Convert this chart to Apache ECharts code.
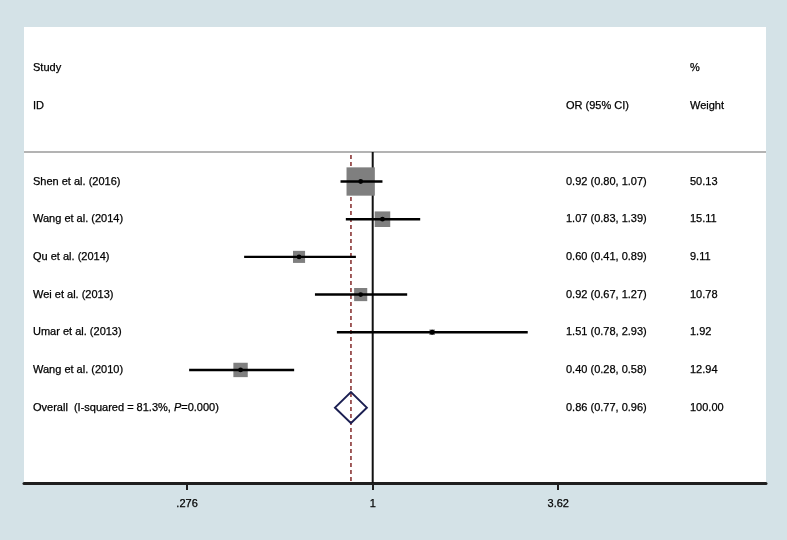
<!DOCTYPE html>
<html>
<head>
<meta charset="utf-8">
<script src="https://cdn.jsdelivr.net/npm/echarts@6/dist/echarts.min.js"></script>
<style>
  html, body { margin: 0; padding: 0; background: #d4e2e7; }
  #chart { width: 787px; height: 540px; }
</style>
</head>
<body>
<div id="chart"></div>
<script>
// ---- Data ----
const studies = ['Shen et al. (2016)', 'Wang et al. (2014)', 'Qu et al. (2014)', 'Wei et al. (2013)', 'Umar et al. (2013)', 'Wang et al. (2010)'];
const orValues = [0.92, 1.07, 0.60, 0.92, 1.51, 0.40];
const ciLower = [0.80, 0.83, 0.41, 0.67, 0.78, 0.28];
const ciUpper = [1.07, 1.39, 0.89, 1.27, 2.93, 0.58];
const weights = [50.13, 15.11, 9.11, 10.78, 1.92, 12.94];
const overallLabel = ['Overall  (I-squared = 81.3%, ', 'P', '=0.000)'];
const overallOR = 0.86;
const overallLower = 0.77;
const overallUpper = 0.96;
const overallWeight = 100.00;
const tickValues = [0.276, 1, 3.62];
const tickLabels = ['.276', '1', '3.62'];
const headerStudy = ['Study', 'ID'];
const headerOR = 'OR (95% CI)';
const headerWeight = ['%', 'Weight'];

// ---- Layout constants ----
const FONT = '"Liberation Sans", Arial, sans-serif';
const firstStudyRow = 3;
const overallRow = firstStudyRow + studies.length;
const sepRow = 2.22;
const axisRow = 11;
const colStudyX = 33;
const colORX = 566;
const colWX = 690;

const fmt = v => v.toFixed(2);

// table text rows
const tableRows = [];
tableRows.push({ row: 0, a: headerStudy[0], b: '', c: headerWeight[0] });
tableRows.push({ row: 1, a: headerStudy[1], b: headerOR, c: headerWeight[1] });
studies.forEach((s, i) => {
  tableRows.push({ row: firstStudyRow + i, a: s, b: fmt(orValues[i]) + ' (' + fmt(ciLower[i]) + ', ' + fmt(ciUpper[i]) + ')', c: fmt(weights[i]) });
});
tableRows.push({ row: overallRow, a: null, b: fmt(overallOR) + ' (' + fmt(overallLower) + ', ' + fmt(overallUpper) + ')', c: fmt(overallWeight) });

const studyData = studies.map((s, i) => [orValues[i], ciLower[i], ciUpper[i], weights[i], firstStudyRow + i]);

const chart = echarts.init(document.getElementById('chart'));
const textStyleBase = { fontFamily: FONT, fontSize: 11, fill: '#000', stroke: '#000', lineWidth: 0.25 };

chart.setOption({
  backgroundColor: '#d4e2e7',
  animation: false,
  grid: { left: 24, right: 21, top: 27, bottom: 57, show: true, backgroundColor: '#ffffff', borderWidth: 0 },
  xAxis: {
    type: 'log', logBase: Math.E, min: 0.0891, max: 15.29,
    axisLine: { show: true, onZero: false, lineStyle: { color: '#1f1f1f', width: 3 } },
    axisTick: { show: true, customValues: tickValues, length: 7, lineStyle: { color: '#1f1f1f', width: 2 } },
    axisLabel: {
      customValues: tickValues, margin: 15, fontSize: 11, fontFamily: FONT, color: '#000',
      textBorderColor: '#000', textBorderWidth: 0.25,
      formatter: function (v) {
        let best = 0, bd = Infinity;
        tickValues.forEach((t, i) => { const d = Math.abs(Math.log(v) - Math.log(t)); if (d < bd) { bd = d; best = i; } });
        return tickLabels[best];
      }
    },
    splitLine: { show: false }
  },
  yAxis: { type: 'value', inverse: true, min: -1.1, max: axisRow, show: false },
  series: [
    // reference lines and header separator
    {
      type: 'custom', silent: true, clip: false,
      data: [[overallOR, 1]],
      renderItem: function (params, api) {
        const cs = params.coordSys;
        const ySep = api.coord([1, sepRow])[1];
        const yAxisPix = api.coord([1, axisRow])[1];
        const xNull = api.coord([api.value(1), sepRow])[0];
        const xOv = api.coord([api.value(0), sepRow])[0];
        return {
          type: 'group', children: [
            { type: 'line', shape: { x1: cs.x, y1: ySep, x2: cs.x + cs.width, y2: ySep }, style: { stroke: '#9a9a9a', lineWidth: 1.5 } },
            { type: 'line', shape: { x1: xNull, y1: ySep, x2: xNull, y2: yAxisPix }, style: { stroke: '#111', lineWidth: 2 } },
            { type: 'line', shape: { x1: xOv, y1: ySep + 3, x2: xOv, y2: yAxisPix }, style: { stroke: '#8a3535', lineWidth: 1.6, lineDash: [4, 3] } }
          ]
        };
      }
    },
    // study boxes and CIs
    {
      type: 'custom', silent: true,
      data: studyData,
      renderItem: function (params, api) {
        const row = api.value(4);
        const c = api.coord([api.value(0), row]);
        const lo = api.coord([api.value(1), row]);
        const hi = api.coord([api.value(2), row]);
        const side = 4 * Math.sqrt(api.value(3));
        return {
          type: 'group', children: [
            { type: 'rect', shape: { x: c[0] - side / 2, y: c[1] - side / 2, width: side, height: side }, style: { fill: '#7f7f7f' } },
            { type: 'line', shape: { x1: lo[0], y1: c[1], x2: hi[0], y2: c[1] }, style: { stroke: '#000', lineWidth: 2.4 } },
            { type: 'circle', shape: { cx: c[0], cy: c[1], r: 2.4 }, style: { fill: '#000' } }
          ]
        };
      }
    },
    // overall diamond
    {
      type: 'custom', silent: true,
      data: [[overallOR, overallLower, overallUpper, overallRow]],
      renderItem: function (params, api) {
        const row = api.value(3);
        const c = api.coord([api.value(0), row]);
        const lo = api.coord([api.value(1), row]);
        const hi = api.coord([api.value(2), row]);
        const h = 15.5;
        return {
          type: 'polygon',
          shape: { points: [[lo[0], c[1]], [c[0], c[1] - h], [hi[0], c[1]], [c[0], c[1] + h]] },
          style: { fill: 'none', stroke: '#1b1f52', lineWidth: 2 }
        };
      }
    },
    // table text
    {
      type: 'custom', silent: true, clip: false,
      data: tableRows.map(r => [1, r.row]),
      renderItem: function (params, api) {
        const r = tableRows[params.dataIndex];
        const y = api.coord([1, api.value(1)])[1];
        const children = [];
        if (r.a !== null) {
          children.push({ type: 'text', x: colStudyX, y: y, style: Object.assign({ text: r.a, verticalAlign: 'middle', align: 'left' }, textStyleBase) });
        } else {
          children.push({
            type: 'text', x: colStudyX, y: y,
            style: {
              text: '{n|' + overallLabel[0] + '}{i|' + overallLabel[1] + '}{n|' + overallLabel[2] + '}',
              verticalAlign: 'middle', align: 'left',
              rich: {
                n: { fontFamily: FONT, fontSize: 11, fill: '#000', stroke: '#000', lineWidth: 0.25 },
                i: { fontFamily: FONT, fontSize: 11, fill: '#000', stroke: '#000', lineWidth: 0.25, fontStyle: 'italic' }
              }
            }
          });
        }
        if (r.b) children.push({ type: 'text', x: colORX, y: y, style: Object.assign({ text: r.b, verticalAlign: 'middle', align: 'left' }, textStyleBase) });
        if (r.c) children.push({ type: 'text', x: colWX, y: y, style: Object.assign({ text: r.c, verticalAlign: 'middle', align: 'left' }, textStyleBase) });
        return { type: 'group', children: children };
      }
    }
  ]
});
</script>
</body>
</html>
